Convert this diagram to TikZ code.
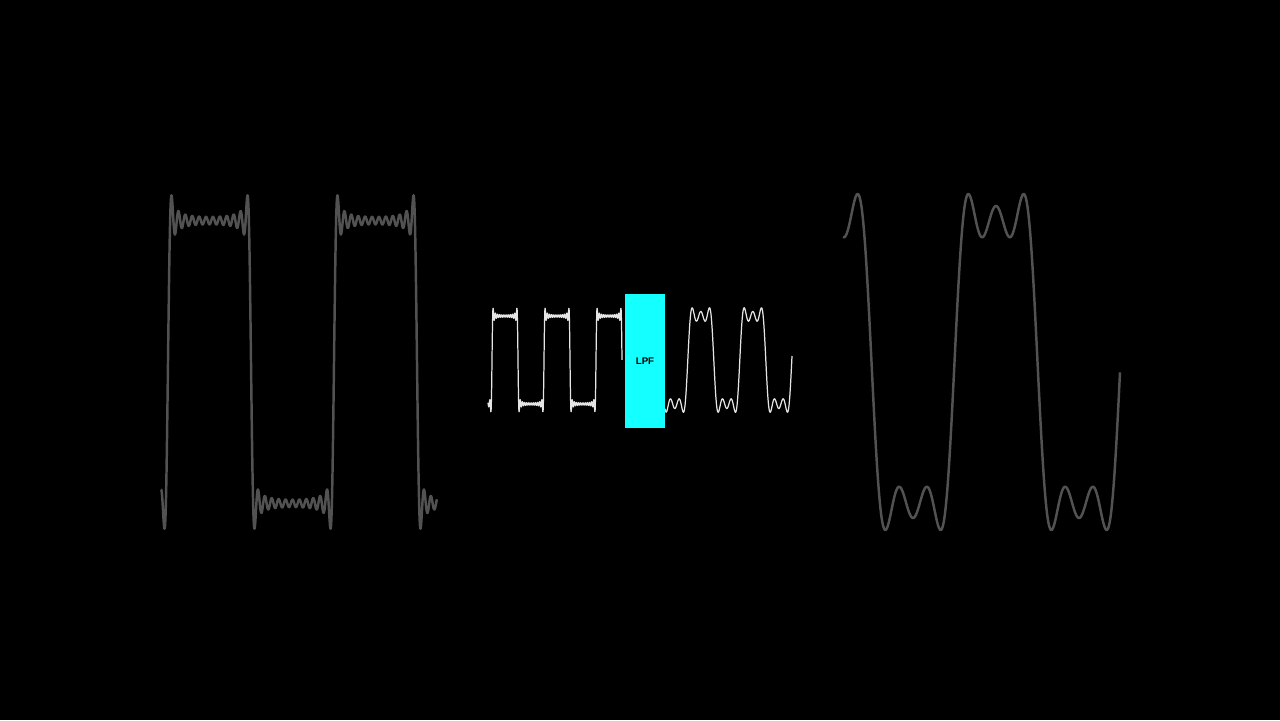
\documentclass[tikz,border=0pt]{standalone}
\usepackage{fontspec}
\setmainfont{Liberation Sans}
\definecolor{lpfcyan}{RGB}{20,255,255}
\begin{document}
\begin{tikzpicture}[x=0.02cm,y=-0.02cm,
  declare function={
    sqA(\t)=sin(\t)+sin(3*\t)/3+sin(5*\t)/5+sin(7*\t)/7+sin(9*\t)/9+sin(11*\t)/11+sin(13*\t)/13+sin(15*\t)/15+sin(17*\t)/17+sin(19*\t)/19+sin(21*\t)/21+sin(23*\t)/23;
    sqB(\t)=sin(\t)+sin(3*\t)/3+sin(5*\t)/5;
    ph(\x,\a,\p)=mod((\x-\a)/\p*360+3600,360);
  },
  bigwave/.style={draw=black!68!white,line width=1.4pt,line join=round},
  smallwave/.style={draw=white!90!black,line width=0.7pt,line join=round},
  filter/.style={fill=lpfcyan,draw=none,minimum width=40*0.02cm,minimum height=134*0.02cm,inner sep=0pt,font=\fontsize{5.5}{6}\selectfont\bfseries,text=black}]
\fill[black] (0,0) rectangle (1280,720);
\useasboundingbox (0,0) rectangle (1280,720);
\draw[bigwave] plot[domain=161:437,samples=1000,smooth] (\x,{362-180*sqA(ph(\x,168,166))});
\draw[bigwave] plot[domain=843:1120,samples=400,smooth] (\x,{362-180*sqB(ph(\x,954.5,166))});
\draw[smallwave] plot[domain=488:622,samples=800,smooth] (\x,{360-56*sqA(ph(\x,492,52))});
\draw[smallwave] plot[domain=665:792,samples=300,smooth] (\x,{360-56*sqB(ph(\x,739.8,52))});
\node[filter] (lpf) at (645,361) {LPF};
\end{tikzpicture}
\end{document}
